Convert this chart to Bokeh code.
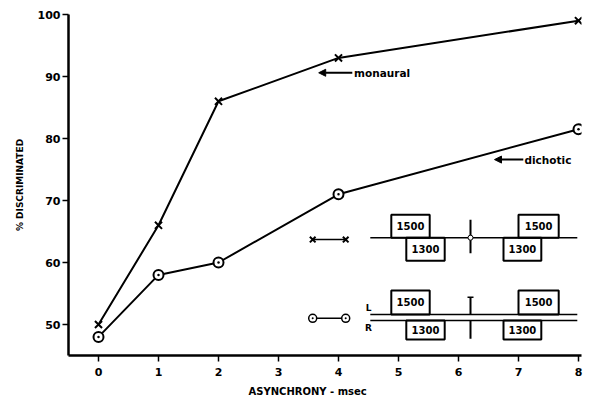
from bokeh.plotting import figure
from bokeh.models import Range1d, FixedTicker, Arrow, NormalHead, Label, Title
from bokeh.core.properties import value
from bokeh.embed import file_html
from bokeh.resources import INLINE

# Data
asynchrony = [0, 1, 2, 4, 8]
monaural = [50, 66, 86, 93, 99]
dichotic = [48, 58, 60, 71, 81.5]
x_ticks = [0, 1, 2, 3, 4, 5, 6, 7, 8]
y_ticks = [50, 60, 70, 80, 90, 100]

FONT = "DejaVu Sans"

p = figure(width=591, height=412, output_backend="svg", toolbar_location=None,
           x_range=Range1d(-0.5, 8.05), y_range=Range1d(45, 100),
           min_border_left=68, min_border_right=10, min_border_top=14, min_border_bottom=57)
p.grid.visible = False
p.outline_line_color = None

for ax in (p.xaxis[0], p.yaxis[0]):
    ax.axis_line_width = 2.5
    ax.axis_line_color = "black"
    ax.major_tick_line_width = 1.5
    ax.major_tick_line_color = "black"
    ax.minor_tick_line_color = None
    ax.major_tick_in = 0
    ax.major_tick_out = 6
    ax.major_label_text_font = FONT
    ax.major_label_text_font_style = "bold"
    ax.major_label_text_font_size = "11px"
    ax.major_label_text_color = "black"
    ax.axis_label_text_font = FONT
    ax.axis_label_text_font_style = "bold"
    ax.axis_label_text_font_size = "9px"
    ax.axis_label_text_color = "black"

p.xaxis.ticker = FixedTicker(ticks=x_ticks)
p.yaxis.ticker = FixedTicker(ticks=y_ticks)
p.xaxis.major_label_standoff = 6
p.yaxis.major_label_standoff = 2
p.yaxis.axis_label = "% DISCRIMINATED"
p.yaxis.axis_label_standoff = 10

p.add_layout(Title(text="ASYNCHRONY - msec", align="left", offset=180, standoff=11,
                   text_font=FONT, text_font_style="bold", text_font_size="10px",
                   text_color="black"), "below")

# Data series
p.line(asynchrony, monaural, line_color="black", line_width=2)
p.scatter(asynchrony, monaural, marker="x", size=10, line_color="black", line_width=2)
p.line(asynchrony, dichotic, line_color="black", line_width=2)
p.scatter(asynchrony, dichotic, marker="circle_dot", size=10, line_color="black",
          fill_color="white", line_width=2)

# Labels with arrows
p.add_layout(Arrow(end=NormalHead(size=7, fill_color="black", line_color="black"),
                   x_start=4.23, y_start=90.6, x_end=3.67, y_end=90.6,
                   line_width=2, line_color="black"))
p.add_layout(Label(x=4.26, y=90.6, text="monaural", text_font=FONT, text_font_style="bold",
                   text_font_size="10.5px", text_baseline="middle", text_color="black"))
p.add_layout(Arrow(end=NormalHead(size=7, fill_color="black", line_color="black"),
                   x_start=7.08, y_start=76.6, x_end=6.6, y_end=76.6,
                   line_width=2, line_color="black"))
p.add_layout(Label(x=7.1, y=76.6, text="dichotic", text_font=FONT, text_font_style="bold",
                   text_font_size="10.5px", text_baseline="middle", text_color="black"))

# Stimulus diagram (legend)
def box(x0, x1, y0, y1, txt):
    p.quad(left=x0, right=x1, bottom=y0, top=y1, fill_color=None, line_color="black", line_width=2)
    p.text(x=[(x0 + x1) / 2], y=[(y0 + y1) / 2], text=[txt], text_font=value(FONT),
           text_font_style="bold", text_font_size="10px", text_align="center",
           text_baseline="middle", text_color="black")

# monaural diagram
base_m = 64.0
p.segment(x0=[4.53], y0=[base_m], x1=[7.98], y1=[base_m], line_color="black", line_width=1.5)
box(4.88, 5.52, base_m, 67.7, "1500")
box(5.13, 5.77, 60.3, base_m, "1300")
box(7.0, 7.67, base_m, 67.7, "1500")
box(6.75, 7.38, 60.3, base_m, "1300")
p.segment(x0=[6.2], y0=[66.9], x1=[6.2], y1=[61.5], line_color="black", line_width=2)
p.scatter([6.2], [base_m], marker="circle", size=5, fill_color="white", line_color="black")
p.segment(x0=[3.57], y0=[63.7], x1=[4.12], y1=[63.7], line_color="black", line_width=1.5)
p.scatter([3.57, 4.12], [63.7, 63.7], marker="x", size=8, line_color="black", line_width=2)

# dichotic diagram
base_l = 51.6
base_r = 50.65
p.segment(x0=[4.53, 4.53], y0=[base_l, base_r], x1=[7.98, 7.98], y1=[base_l, base_r],
          line_color="black", line_width=1.5)
box(4.88, 5.52, base_l, 55.5, "1500")
box(5.13, 5.77, 47.6, base_r, "1300")
box(7.0, 7.67, base_l, 55.5, "1500")
box(6.75, 7.38, 47.6, base_r, "1300")
p.segment(x0=[6.2, 6.2], y0=[54.4, base_r], x1=[6.2, 6.2], y1=[base_l, 47.7],
          line_color="black", line_width=2)
p.segment(x0=[6.15], y0=[54.4], x1=[6.25], y1=[54.4], line_color="black", line_width=1.5)
p.segment(x0=[3.57], y0=[51.0], x1=[4.12], y1=[51.0], line_color="black", line_width=1.5)
p.scatter([3.57, 4.12], [51.0, 51.0], marker="circle_dot", size=8, fill_color="white",
          line_color="black", line_width=1.5)
p.add_layout(Label(x=4.5, y=52.6, text="L", text_font=FONT, text_font_style="bold",
                   text_font_size="9px", text_baseline="middle", text_align="center",
                   text_color="black"))
p.add_layout(Label(x=4.5, y=49.5, text="R", text_font=FONT, text_font_style="bold",
                   text_font_size="9px", text_baseline="middle", text_align="center",
                   text_color="black"))

open("out.html", "w").write(file_html(p, INLINE))
